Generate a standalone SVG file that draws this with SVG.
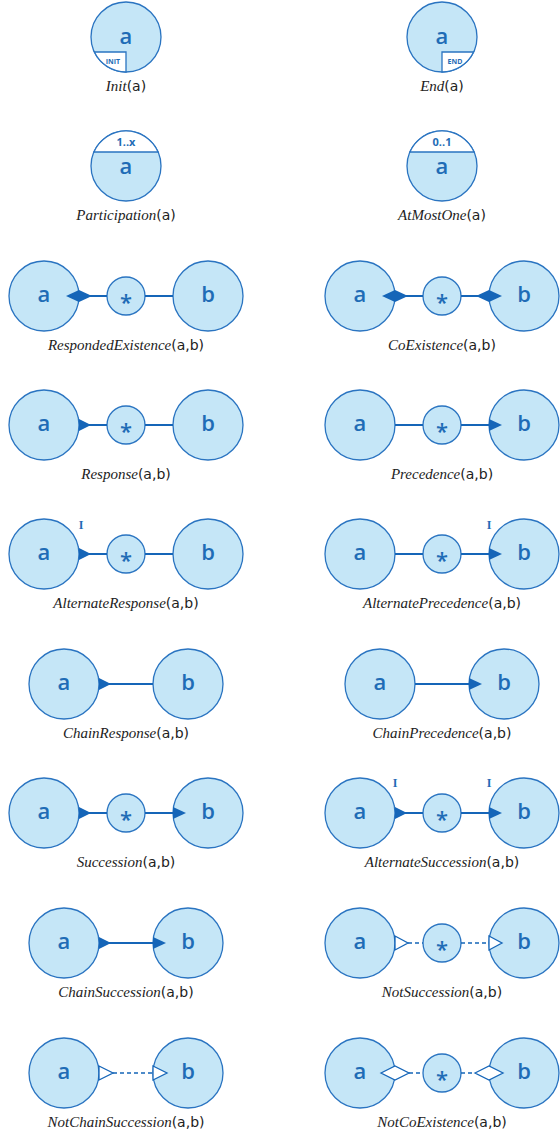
<svg xmlns="http://www.w3.org/2000/svg" width="560" height="1135" viewBox="0 0 560 1135">
<style>
.n{fill:#c5e6f7;stroke:#2a74c1;stroke-width:1.3}
.w{fill:#fff;stroke:#2a74c1;stroke-width:1.3}
.t{font-family:"Open Sans",sans-serif;font-weight:600;font-size:22px;fill:#1f6cb6;text-anchor:middle}
.s{font-family:"Open Sans",sans-serif;font-weight:700;fill:#1f6cb6;text-anchor:middle}
.l{font-size:14px;fill:#222;text-anchor:middle}
.it{font-family:"Liberation Serif","Times New Roman",serif;font-style:italic;font-size:15px}
.sf{font-family:"DejaVu Sans",sans-serif;font-size:14px}
.c{stroke:#1565b8;stroke-width:2;fill:none}
.d{stroke:#1565b8;stroke-width:1.5;fill:none;stroke-dasharray:4 3}
.f{fill:#1565b8;stroke:none}
.o{fill:#fff;stroke:#1565b8;stroke-width:1.3}
.m{font-family:"Liberation Serif",serif;font-weight:700;font-size:12px;fill:#1f6cb6;text-anchor:middle}
</style>

<!-- Row 1 -->
<g id="init">
<circle class="n" cx="126" cy="37" r="35"/>
<path class="w" d="M94.4,52 L126,52 L126,72 A35,35 0 0 1 94.4,52 Z"/>
<text class="t" x="126" y="44">a</text>
<text class="s" x="113" y="64" font-size="7">INIT</text>
<text class="l" x="126" y="91"><tspan class="it">Init</tspan><tspan class="sf">(a)</tspan></text>
</g>
<g id="end">
<circle class="n" cx="442" cy="37" r="35"/>
<path class="w" d="M473.6,52 L442,52 L442,72 A35,35 0 0 0 473.6,52 Z"/>
<text class="t" x="442" y="44">a</text>
<text class="s" x="455" y="64" font-size="7">END</text>
<text class="l" x="442" y="91"><tspan class="it">End</tspan><tspan class="sf">(a)</tspan></text>
</g>

<!-- Row 2 -->
<g id="participation">
<circle class="n" cx="126" cy="166" r="35"/>
<path class="w" d="M93.9,152 A35,35 0 0 1 158.1,152 Z"/>
<text class="s" x="126" y="146" font-size="11">1..x</text>
<text class="t" x="126" y="174">a</text>
<text class="l" x="126" y="220"><tspan class="it">Participation</tspan><tspan class="sf">(a)</tspan></text>
</g>
<g id="atmostone">
<circle class="n" cx="442" cy="166" r="35"/>
<path class="w" d="M409.9,152 A35,35 0 0 1 474.1,152 Z"/>
<text class="s" x="442" y="146" font-size="11">0..1</text>
<text class="t" x="442" y="174">a</text>
<text class="l" x="442" y="220"><tspan class="it">AtMostOne</tspan><tspan class="sf">(a)</tspan></text>
</g>

<!-- Row 3 -->
<g id="respondedexistence">
<circle class="n" cx="44" cy="296" r="35"/><text class="t" x="44" y="302">a</text>
<circle class="n" cx="126" cy="296" r="19"/><text class="t" x="126" y="310">*</text>
<circle class="n" cx="208" cy="296" r="35"/><text class="t" x="208" y="302">b</text>
<text class="l" x="126" y="350"><tspan class="it">RespondedExistence</tspan><tspan class="sf">(a,b)</tspan></text>
</g>
<g id="coexistence">
<circle class="n" cx="360" cy="296" r="35"/><text class="t" x="360" y="302">a</text>
<circle class="n" cx="442" cy="296" r="19"/><text class="t" x="442" y="310">*</text>
<circle class="n" cx="524" cy="296" r="35"/><text class="t" x="524" y="302">b</text>
<text class="l" x="442" y="350"><tspan class="it">CoExistence</tspan><tspan class="sf">(a,b)</tspan></text>
</g>

<!-- Row 4 -->
<g id="response">
<circle class="n" cx="44" cy="425" r="35"/><text class="t" x="44" y="431">a</text>
<circle class="n" cx="126" cy="425" r="19"/><text class="t" x="126" y="439">*</text>
<circle class="n" cx="208" cy="425" r="35"/><text class="t" x="208" y="431">b</text>
<text class="l" x="126" y="479"><tspan class="it">Response</tspan><tspan class="sf">(a,b)</tspan></text>
</g>
<g id="precedence">
<circle class="n" cx="360" cy="425" r="35"/><text class="t" x="360" y="431">a</text>
<circle class="n" cx="442" cy="425" r="19"/><text class="t" x="442" y="439">*</text>
<circle class="n" cx="524" cy="425" r="35"/><text class="t" x="524" y="431">b</text>
<text class="l" x="442" y="479"><tspan class="it">Precedence</tspan><tspan class="sf">(a,b)</tspan></text>
</g>

<!-- Row 5 -->
<g id="alternateresponse">
<circle class="n" cx="44" cy="554" r="35"/><text class="t" x="44" y="560">a</text>
<circle class="n" cx="126" cy="554" r="19"/><text class="t" x="126" y="568">*</text>
<circle class="n" cx="208" cy="554" r="35"/><text class="t" x="208" y="560">b</text>
<text class="l" x="126" y="608"><tspan class="it">AlternateResponse</tspan><tspan class="sf">(a,b)</tspan></text>
</g>
<g id="alternateprecedence">
<circle class="n" cx="360" cy="554" r="35"/><text class="t" x="360" y="560">a</text>
<circle class="n" cx="442" cy="554" r="19"/><text class="t" x="442" y="568">*</text>
<circle class="n" cx="524" cy="554" r="35"/><text class="t" x="524" y="560">b</text>
<text class="l" x="442" y="608"><tspan class="it">AlternatePrecedence</tspan><tspan class="sf">(a,b)</tspan></text>
</g>

<!-- Row 6 -->
<g id="chainresponse">
<circle class="n" cx="64" cy="684" r="35"/><text class="t" x="64" y="690">a</text>
<circle class="n" cx="188" cy="684" r="35"/><text class="t" x="188" y="690">b</text>
<text class="l" x="126" y="738"><tspan class="it">ChainResponse</tspan><tspan class="sf">(a,b)</tspan></text>
</g>
<g id="chainprecedence">
<circle class="n" cx="380" cy="684" r="35"/><text class="t" x="380" y="690">a</text>
<circle class="n" cx="504" cy="684" r="35"/><text class="t" x="504" y="690">b</text>
<text class="l" x="442" y="738"><tspan class="it">ChainPrecedence</tspan><tspan class="sf">(a,b)</tspan></text>
</g>

<!-- Row 7 -->
<g id="succession">
<circle class="n" cx="44" cy="813" r="35"/><text class="t" x="44" y="819">a</text>
<circle class="n" cx="126" cy="813" r="19"/><text class="t" x="126" y="827">*</text>
<circle class="n" cx="208" cy="813" r="35"/><text class="t" x="208" y="819">b</text>
<text class="l" x="126" y="867"><tspan class="it">Succession</tspan><tspan class="sf">(a,b)</tspan></text>
</g>
<g id="alternatesuccession">
<circle class="n" cx="360" cy="813" r="35"/><text class="t" x="360" y="819">a</text>
<circle class="n" cx="442" cy="813" r="19"/><text class="t" x="442" y="827">*</text>
<circle class="n" cx="524" cy="813" r="35"/><text class="t" x="524" y="819">b</text>
<text class="l" x="442" y="867"><tspan class="it">AlternateSuccession</tspan><tspan class="sf">(a,b)</tspan></text>
</g>

<!-- Row 8 -->
<g id="chainsuccession">
<circle class="n" cx="64" cy="943" r="35"/><text class="t" x="64" y="949">a</text>
<circle class="n" cx="188" cy="943" r="35"/><text class="t" x="188" y="949">b</text>
<text class="l" x="126" y="997"><tspan class="it">ChainSuccession</tspan><tspan class="sf">(a,b)</tspan></text>
</g>
<g id="notsuccession">
<circle class="n" cx="360" cy="943" r="35"/><text class="t" x="360" y="949">a</text>
<circle class="n" cx="442" cy="943" r="19"/><text class="t" x="442" y="957">*</text>
<circle class="n" cx="524" cy="943" r="35"/><text class="t" x="524" y="949">b</text>
<text class="l" x="442" y="997"><tspan class="it">NotSuccession</tspan><tspan class="sf">(a,b)</tspan></text>
</g>

<!-- Row 9 -->
<g id="notchainsuccession">
<circle class="n" cx="64" cy="1073" r="35"/><text class="t" x="64" y="1079">a</text>
<circle class="n" cx="188" cy="1073" r="35"/><text class="t" x="188" y="1079">b</text>
<text class="l" x="126" y="1127"><tspan class="it">NotChainSuccession</tspan><tspan class="sf">(a,b)</tspan></text>
</g>
<g id="notcoexistence">
<circle class="n" cx="360" cy="1073" r="35"/><text class="t" x="360" y="1079">a</text>
<circle class="n" cx="442" cy="1073" r="19"/><text class="t" x="442" y="1087">*</text>
<circle class="n" cx="524" cy="1073" r="35"/><text class="t" x="524" y="1079">b</text>
<text class="l" x="442" y="1127"><tspan class="it">NotCoExistence</tspan><tspan class="sf">(a,b)</tspan></text>
</g>

<g id="connectors">
<!-- RespondedExistence -->
<path class="c" d="M79,296 H107 M145,296 H173"/>
<path class="f" d="M66,296 L79,290 L92,296 L79,302 Z"/>
<!-- CoExistence -->
<path class="c" d="M395,296 H423 M461,296 H489"/>
<path class="f" d="M382,296 L395,290 L408,296 L395,302 Z"/>
<path class="f" d="M476,296 L489,290 L502,296 L489,302 Z"/>
<!-- Response -->
<path class="c" d="M79,425 H107 M145,425 H173"/>
<path class="f" d="M79,419 L91,425 L79,431 Z"/>
<!-- Precedence -->
<path class="c" d="M395,425 H423 M461,425 H489"/>
<path class="f" d="M489,419 L502,425 L489,431 Z"/>
<!-- AlternateResponse -->
<path class="c" d="M79,554 H107 M145,554 H173"/>
<path class="f" d="M79,548 L91,554 L79,560 Z"/>
<text class="m" x="81" y="529">I</text>
<!-- AlternatePrecedence -->
<path class="c" d="M395,554 H423 M461,554 H489"/>
<path class="f" d="M489,548 L502,554 L489,560 Z"/>
<text class="m" x="489" y="529">I</text>
<!-- ChainResponse -->
<path class="c" d="M99,684 H153"/>
<path class="f" d="M99,678 L111,684 L99,690 Z"/>
<!-- ChainPrecedence -->
<path class="c" d="M415,684 H469"/>
<path class="f" d="M469,678 L482,684 L469,690 Z"/>
<!-- Succession -->
<path class="c" d="M79,813 H107 M145,813 H173"/>
<path class="f" d="M79,807 L91,813 L79,819 Z"/>
<path class="f" d="M173,807 L186,813 L173,819 Z"/>
<!-- AlternateSuccession -->
<path class="c" d="M395,813 H423 M461,813 H489"/>
<path class="f" d="M395,807 L407,813 L395,819 Z"/>
<path class="f" d="M489,807 L502,813 L489,819 Z"/>
<text class="m" x="395" y="787">I</text>
<text class="m" x="489" y="787">I</text>
<!-- ChainSuccession -->
<path class="c" d="M99,943 H153"/>
<path class="f" d="M99,937 L111,943 L99,949 Z"/>
<path class="f" d="M153,937 L166,943 L153,949 Z"/>
<!-- NotSuccession -->
<path class="d" d="M408,943 H423 M461,943 H489"/>
<path class="o" d="M395,936 L408,943 L395,950 Z"/>
<path class="o" d="M489,936 L502,943 L489,950 Z"/>
<!-- NotChainSuccession -->
<path class="d" d="M113,1073 H153"/>
<path class="o" d="M99,1066 L113,1073 L99,1080 Z"/>
<path class="o" d="M153,1066 L167,1073 L153,1080 Z"/>
<!-- NotCoExistence -->
<path class="d" d="M409,1073 H423 M461,1073 H475"/>
<path class="o" d="M381,1073 L395,1066 L409,1073 L395,1080 Z"/>
<path class="o" d="M475,1073 L489,1066 L503,1073 L489,1080 Z"/>
</g>
</svg>
